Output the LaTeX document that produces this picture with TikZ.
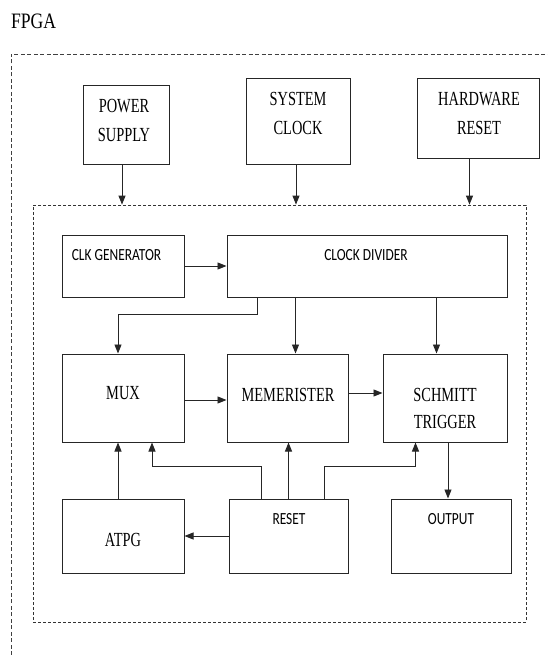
\documentclass[tikz,border=0pt]{standalone}
\usepackage{fontspec}
\usepackage{graphicx}
\setmainfont{Liberation Serif}
\newfontfamily\timesfont{Liberation Serif}
\newfontfamily\calibrifont{Carlito}
\usetikzlibrary{arrows.meta,fit}
\newcommand\srtxt[1]{\scalebox{0.72}[1]{\timesfont\fontsize{20}{24}\selectfont #1}}
\newcommand\sntxt[1]{\scalebox{0.79}[1]{\calibrifont\fontsize{17}{20}\selectfont #1}}
\newcommand\titletxt[1]{\scalebox{0.8}[1]{\timesfont\fontsize{22}{26}\selectfont #1}}
\tikzset{
  blk/.style={draw=black!85, line width=1pt, inner sep=0pt, fill=none},
  lbl/.style={inner sep=0pt, text=black},
  arr/.style={draw=black!85, line width=0.9pt, -{Triangle[length=9pt,width=7pt]}},
  outerdash/.style={draw=black!75, line width=0.9pt, dash pattern=on 4pt off 2.5pt},
  innerdash/.style={draw=black!80, line width=0.8pt, dash pattern=on 3pt off 2pt},
}
\begin{document}
\begin{tikzpicture}[x=1pt,y=-1pt]
\useasboundingbox (0,0) rectangle (548,655);
\fill[white] (0,0) rectangle (548,655);

% title
\node[lbl] (fpga) at (33.5,21) {\titletxt{FPGA}};

% outer dashed frame (cut by the picture edge)
\draw[outerdash] (11,655) -- (11,54) -- (548,54);

% inner dashed frame
\node[innerdash, inner sep=0pt, fit={(33,205) (526,622)}] (inner) {};

% top boxes
\node[blk, fit={(83,86) (169,165)}] (psu) {};
\node[blk, fit={(246,79) (350,165)}] (sys) {};
\node[blk, fit={(417,79) (539,159)}] (hw) {};
\node[lbl] (psu1) at (124,106) {\srtxt{POWER}};
\node[lbl] (psu2) at (124,135) {\srtxt{SUPPLY}};
\node[lbl] (sys1) at (298,99) {\srtxt{SYSTEM}};
\node[lbl] (sys2) at (298,128) {\srtxt{CLOCK}};
\node[lbl] (hw1) at (479,99) {\srtxt{HARDWARE}};
\node[lbl] (hw2) at (479,128) {\srtxt{RESET}};

% inner boxes
\node[blk, fit={(62,235) (184,297)}] (clkgen) {};
\node[blk, fit={(227,235) (507,297)}] (div) {};
\node[blk, fit={(62,354) (184,442)}] (mux) {};
\node[blk, fit={(227,354) (348,442)}] (mem) {};
\node[blk, fit={(383,354) (507,442)}] (sch) {};
\node[blk, fit={(62,499) (184,573)}] (atpg) {};
\node[blk, fit={(229,499) (348,573)}] (reset) {};
\node[blk, fit={(391,499) (511,573)}] (out) {};

\node[lbl] (clkgent) at (116.5,255) {\sntxt{CLK GENERATOR}};
\node[lbl] (divt) at (366,255) {\sntxt{CLOCK DIVIDER}};
\node[lbl] (muxt) at (123,393) {\srtxt{MUX}};
\node[lbl] (memt) at (288,395) {\srtxt{MEMERISTER}};
\node[lbl] (scht1) at (445,395) {\srtxt{SCHMITT}};
\node[lbl] (scht2) at (445,422) {\srtxt{TRIGGER}};
\node[lbl] (atpgt) at (123,540) {\srtxt{ATPG}};
\node[lbl] (resett) at (289,519) {\sntxt{RESET}};
\node[lbl] (outt) at (451,519) {\sntxt{OUTPUT}};

% connector anchor points
\coordinate (psuS) at ([xshift=-4pt]psu.south);
\coordinate (sysS) at ([xshift=-2pt]sys.south);
\coordinate (hwS) at ([xshift=-8.5pt]hw.south);
\coordinate (divA) at ([xshift=31pt]div.south west);
\coordinate (divB) at ([xshift=69pt]div.south west);
\coordinate (divC) at ([xshift=210pt]div.south west);
\coordinate (muxN) at ([xshift=-5pt]mux.north);
\coordinate (muxS1) at ([xshift=-5pt]mux.south);
\coordinate (muxS2) at ([xshift=29pt]mux.south);
\coordinate (atpgN) at ([xshift=-5pt]atpg.north);
\coordinate (resA) at ([xshift=33pt]reset.north west);
\coordinate (resC) at ([xshift=96pt]reset.north west);
\coordinate (schS1) at ([xshift=33pt]sch.south west);
\coordinate (schS2) at ([xshift=3pt]sch.south);
\coordinate (muxE) at ([yshift=-2pt]mux.east);
\coordinate (memE) at ([yshift=5pt]mem.east);

% connectors
\draw[arr] (psuS) -- (psuS |- inner.north);
\draw[arr] (sysS) -- (sysS |- inner.north);
\draw[arr] (hwS) -- (hwS |- inner.north);
\draw[arr] (clkgen.east) -- (clkgen.east -| div.west);
\draw[arr] (divA) -- ++(0,17) -| (muxN);
\draw[arr] (divB) -- (divB |- mem.north);
\draw[arr] (divC) -- (divC |- sch.north);
\draw[arr] (muxE) -- (muxE -| mem.west);
\draw[arr] (memE) -- (memE -| sch.west);
\draw[arr] (atpgN) -- (muxS1);
\draw[arr] (resA) -- ++(0,-32) -| (muxS2);
\draw[arr] (reset.north) -- (reset.north |- mem.south);
\draw[arr] (resC) -- ++(0,-32) -| (schS1);
\draw[arr] (schS2) -- (schS2 |- out.north);
\draw[arr] (reset.west) -- (reset.west -| atpg.east);
\end{tikzpicture}
\end{document}
